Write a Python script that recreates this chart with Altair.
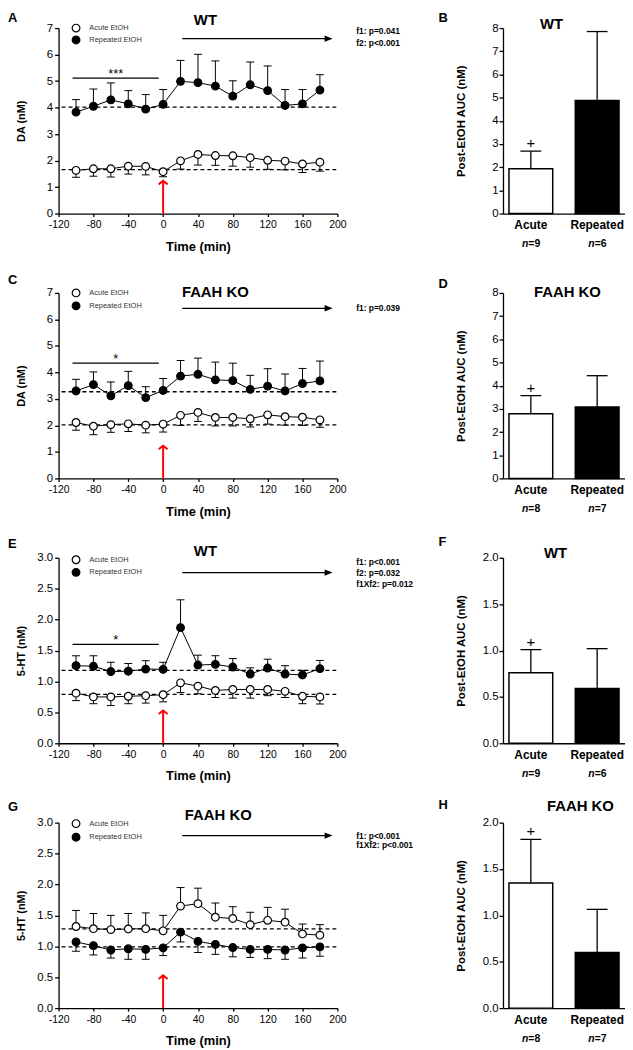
import altair as alt
import pandas as pd

# ---------------- data ----------------
TIME = [-100, -80, -60, -40, -20, 0, 20, 40, 60, 80, 100, 120, 140, 160, 180]
X_TICKS = [-120, -80, -40, 0, 40, 80, 120, 160, 200]
GROUPS = ["Acute", "Repeated"]

# A: DA, WT
DA_WT_ACUTE_MEAN = [1.63, 1.69, 1.69, 1.79, 1.78, 1.58, 1.99, 2.23, 2.19, 2.18, 2.11, 2.01, 1.98, 1.87, 1.94]
DA_WT_ACUTE_SEM = [0.26, 0.28, 0.31, 0.30, 0.32, 0.19, 0.31, 0.40, 0.37, 0.39, 0.36, 0.34, 0.33, 0.32, 0.34]
DA_WT_REP_MEAN = [3.83, 4.05, 4.29, 4.14, 3.94, 4.12, 4.99, 4.94, 4.81, 4.43, 4.86, 4.64, 4.08, 4.14, 4.66]
DA_WT_REP_SEM = [0.47, 0.65, 0.64, 0.50, 0.55, 0.56, 0.79, 1.07, 0.95, 0.58, 0.86, 0.93, 0.60, 0.54, 0.58]
DA_WT_BASE = [1.66, 4.02]

# C: DA, FAAH KO
DA_KO_ACUTE_MEAN = [2.11, 1.97, 2.03, 2.06, 2.01, 2.05, 2.38, 2.49, 2.30, 2.30, 2.25, 2.40, 2.33, 2.31, 2.21]
DA_KO_ACUTE_SEM = [0.29, 0.32, 0.29, 0.29, 0.29, 0.30, 0.38, 0.34, 0.32, 0.32, 0.31, 0.35, 0.32, 0.31, 0.28]
DA_KO_REP_MEAN = [3.30, 3.54, 3.12, 3.50, 3.05, 3.32, 3.86, 3.93, 3.72, 3.69, 3.36, 3.48, 3.30, 3.58, 3.68]
DA_KO_REP_SEM = [0.44, 0.48, 0.52, 0.54, 0.41, 0.45, 0.59, 0.61, 0.67, 0.66, 0.53, 0.66, 0.64, 0.57, 0.75]
DA_KO_BASE = [2.02, 3.27]

# E: 5-HT, WT
HT_WT_ACUTE_MEAN = [0.81, 0.75, 0.75, 0.76, 0.77, 0.785, 0.977, 0.924, 0.854, 0.87, 0.87, 0.87, 0.84, 0.76, 0.75]
HT_WT_ACUTE_SEM = [0.12, 0.11, 0.14, 0.12, 0.12, 0.115, 0.157, 0.124, 0.114, 0.14, 0.14, 0.10, 0.10, 0.12, 0.115]
HT_WT_REP_MEAN = [1.255, 1.245, 1.16, 1.165, 1.20, 1.196, 1.87, 1.265, 1.276, 1.233, 1.12, 1.217, 1.12, 1.105, 1.207]
HT_WT_REP_SEM = [0.16, 0.17, 0.15, 0.125, 0.135, 0.114, 0.45, 0.16, 0.14, 0.137, 0.10, 0.143, 0.135, 0.075, 0.133]
HT_WT_BASE = [0.79, 1.18]

# G: 5-HT, FAAH KO
HT_KO_ACUTE_MEAN = [1.32, 1.285, 1.27, 1.28, 1.285, 1.25, 1.65, 1.69, 1.47, 1.45, 1.35, 1.42, 1.39, 1.20, 1.18]
HT_KO_ACUTE_SEM = [0.26, 0.245, 0.23, 0.25, 0.255, 0.25, 0.30, 0.25, 0.23, 0.19, 0.20, 0.21, 0.21, 0.16, 0.17]
HT_KO_REP_MEAN = [1.07, 1.01, 0.94, 0.96, 0.95, 0.975, 1.23, 1.08, 1.03, 0.98, 0.95, 0.95, 0.94, 0.975, 0.99]
HT_KO_REP_SEM = [0.15, 0.15, 0.13, 0.17, 0.16, 0.125, 0.16, 0.18, 0.16, 0.15, 0.13, 0.15, 0.15, 0.165, 0.15]
HT_KO_BASE = [0.99, 1.28]

# post-EtOH AUC bars (B, D, F, H)
AUC_B_MEAN = [1.93, 4.88]
AUC_B_SEM = [0.76, 2.97]
AUC_D_MEAN = [2.79, 3.08]
AUC_D_SEM = [0.78, 1.35]
AUC_F_MEAN = [0.76, 0.59]
AUC_F_SEM = [0.25, 0.43]
AUC_H_MEAN = [1.35, 0.60]
AUC_H_SEM = [0.47, 0.465]
N_B = [9, 6]
N_D = [8, 7]
N_F = [9, 6]
N_H = [8, 7]

# annotation values (data units)
ETOH_TIME = 0
POST_START, POST_END = 22, 188
STAR_FROM, STAR_TO = -104, -5

# ---------------- style ----------------
FONT = "Liberation Sans"
W, H, BW = 281, 187, 123
one = pd.DataFrame({"k": [0]})
FILL = alt.Scale(domain=GROUPS, range=["white", "black"])
TRI = "M-1,-0.8L1,0L-1,0.8Z"
CHEV = "M-1,0.8L0,0L1,0.8"


def txt(text, x, y, size, weight="normal", align="left", baseline="middle",
        color="black", style="normal"):
    return alt.Chart(one).mark_text(
        text=text, font=FONT, fontSize=size, fontWeight=weight, align=align,
        baseline=baseline, fill=color, fontStyle=style
    ).encode(x=alt.value(x), y=alt.value(y))


def line_panel(letter, letter_y, title, tx, ty, ylabel, ymax, yticks, fmt,
               acute, acute_sem, rep, rep_sem, acute_up, base, star, star_y,
               arrow_y, stats, stats_y, legend_y):
    xs = alt.Scale(domain=[-120, 200], nice=False, zero=False)
    ys = alt.Scale(domain=[0, ymax], nice=False)
    xax = alt.Axis(values=X_TICKS, labelExpr="'' + datum.value", title="Time (min)",
                   titleFont=FONT, titleFontSize=13,
                   titleFontWeight="bold", titleColor="black", titleY=27, titleBaseline="top",
                   labelFont=FONT, labelFontSize=10.5, labelColor="black", labelPadding=3,
                   tickSize=3, tickColor="black", tickWidth=1.3, domainColor="black",
                   domainWidth=1.3, grid=False, labelFlush=False, labelOverlap=False)
    yax = alt.Axis(values=yticks, format=fmt, title=ylabel, titleFont=FONT, titleFontSize=11,
                   titleFontWeight="bold", titleColor="black", titleX=-32,
                   titleBaseline="bottom", titleAngle=270, labelFont=FONT, labelFontSize=11.5,
                   labelColor="black", labelPadding=2, tickSize=4, tickColor="black",
                   tickWidth=1.3, domainColor="black", domainWidth=1.3, grid=False,
                   labelOverlap=False)
    X = alt.X("t:Q", scale=xs, axis=xax)
    Y = alt.Y("v:Q", scale=ys, axis=yax)

    rows, errs = [], []
    for name, m, s, up in (("Acute", acute, acute_sem, acute_up),
                           ("Repeated", rep, rep_sem, not acute_up)):
        for t, mv, sv in zip(TIME, m, s):
            rows.append({"s": name, "t": t, "v": mv})
            errs.append({"s": name, "t": t, "v": mv, "e": mv + sv if up else mv - sv})
    pts = pd.DataFrame(rows)
    err = pd.DataFrame(errs)
    caps = err.assign(v=err["e"])
    etoh = pd.DataFrame({"t": [ETOH_TIME]})

    layers = [
        alt.Chart(pd.DataFrame({"v": base})).mark_rule(
            strokeDash=[4, 3], strokeWidth=1.3, color="black"
        ).encode(y=Y, x=alt.value(3), x2=alt.value(W)),
        alt.Chart(err).mark_rule(color="black", strokeWidth=1).encode(
            x=X, y=Y, y2=alt.Y2("e:Q")),
        alt.Chart(caps).mark_tick(orient="horizontal", size=8, thickness=1,
                                  color="black", opacity=1).encode(x=X, y=Y),
        alt.Chart(pts).mark_line(color="black", strokeWidth=1).encode(
            x=X, y=Y, detail="s:N"),
        alt.Chart(pts).mark_circle(size=60, stroke="black", strokeWidth=1.2,
                                   opacity=1).encode(
            x=X, y=Y, fill=alt.Fill("s:N", scale=FILL, legend=None)),
        # post-EtOH arrow
        alt.Chart(pd.DataFrame({"t": [POST_START], "t2": [POST_END], "v": [arrow_y]}))
        .mark_rule(color="black", strokeWidth=1.3).encode(x=X, x2="t2:Q", y=Y),
        alt.Chart(pd.DataFrame({"t": [POST_END + 2], "v": [arrow_y]}))
        .mark_point(shape=TRI, filled=True, color="black", size=64, opacity=1)
        .encode(x=X, y=Y),
        # red EtOH injection arrow
        alt.Chart(etoh).mark_rule(color="#ff0000", strokeWidth=2).encode(
            x=X, y=alt.value(H), y2=alt.value(H - 33)),
        alt.Chart(etoh).mark_point(shape=CHEV, filled=False, color="#ff0000",
                                   strokeWidth=2, size=80, opacity=1).encode(
            x=X, y=alt.value(H - 33)),
        # legend
        alt.Chart(one).mark_circle(size=60, stroke="black", strokeWidth=1.2, opacity=1,
                                   color="white").encode(
            x=alt.value(17.6), y=alt.value(legend_y[0])),
        alt.Chart(one).mark_circle(size=60, stroke="black", strokeWidth=1.2, opacity=1,
                                   color="black").encode(
            x=alt.value(17.6), y=alt.value(legend_y[1])),
        txt("Acute EtOH", 31, legend_y[0], 7.5, color="#333333"),
        txt("Repeated EtOH", 31, legend_y[1], 7.5, color="#333333"),
        # titles / letter
        txt(title, tx, ty, 15, weight="bold", align="center"),
        txt(letter, -51, letter_y, 13, weight="bold", baseline="top"),
    ]
    for s_text, s_y in zip(stats, stats_y):
        layers.append(txt(s_text, 300, s_y, 8.5, weight="bold"))
    if star:
        layers.append(
            alt.Chart(pd.DataFrame({"t": [STAR_FROM], "t2": [STAR_TO], "v": [star_y]}))
            .mark_rule(color="black", strokeWidth=1.2).encode(x=X, x2="t2:Q", y=Y))
        layers.append(
            alt.Chart(pd.DataFrame({"t": [(STAR_FROM + STAR_TO) / 2], "v": [star_y]}))
            .mark_text(text=star, font=FONT, fontSize=13, baseline="alphabetic",
                       align="center", fill="black").encode(x=X, y=Y))
    return alt.layer(*layers).properties(width=W, height=H)


def bar_panel(letter, letter_y, title, tx, ty, ymax, yticks, fmt, means, sems, ns):
    xs = alt.Scale(domain=GROUPS, paddingInner=0.34, paddingOuter=0.09)
    ys = alt.Scale(domain=[0, ymax], nice=False)
    xax = alt.Axis(title=None, labelAngle=0, ticks=False, labelFont=FONT, labelFontSize=12,
                   labelFontWeight="bold", labelColor="black", labelPadding=6,
                   domainColor="black", domainWidth=1.3)
    yax = alt.Axis(values=yticks, format=fmt, title="Post-EtOH AUC (nM)", titleFont=FONT,
                   titleFontSize=11.5, titleFontWeight="bold", titleColor="black",
                   titleX=-37, titleBaseline="bottom", titleAngle=270, labelFont=FONT,
                   labelFontSize=11.5, labelColor="black", labelPadding=1, tickSize=4,
                   tickColor="black", tickWidth=1.3, domainColor="black", domainWidth=1.3,
                   grid=False, labelOverlap=False)
    X = alt.X("g:N", scale=xs, axis=xax)
    Y = alt.Y("v:Q", scale=ys, axis=yax)
    df = pd.DataFrame({"g": GROUPS, "v": means,
                       "e": [m + s for m, s in zip(means, sems)],
                       "nl": ["=" + str(n) for n in ns]})
    caps = df.assign(v=df["e"])
    plus = caps[caps["g"] == "Acute"]
    layers = [
        alt.Chart(df).mark_rule(color="black", strokeWidth=1.3).encode(
            x=X, y=Y, y2=alt.Y2("e:Q")),
        alt.Chart(caps).mark_tick(orient="horizontal", size=21, thickness=1.3,
                                  color="black", opacity=1).encode(x=X, y=Y),
        alt.Chart(df).mark_bar(stroke="black", strokeWidth=1.5, opacity=1).encode(
            x=X, y=Y, fill=alt.Fill("g:N", scale=FILL, legend=None)),
        alt.Chart(plus).mark_text(text="+", font=FONT, fontSize=15, dy=-3,
                                  baseline="alphabetic", fill="black").encode(x=X, y=Y),
        alt.Chart(df).mark_text(text="n", font=FONT, fontSize=10.5, fontWeight="bold",
                                fontStyle="italic", align="right", dx=-2.5,
                                baseline="middle", fill="black").encode(
            x=X, y=alt.value(H + 31)),
        alt.Chart(df).mark_text(font=FONT, fontSize=10.5, fontWeight="bold", align="left",
                                dx=-2.5, baseline="middle", fill="black").encode(
            x=X, y=alt.value(H + 31), text="nl:N"),
        txt(title, tx, ty, 15, weight="bold", align="center"),
        txt(letter, -65, letter_y, 13, weight="bold", baseline="top"),
    ]
    return alt.layer(*layers).properties(width=BW, height=H)


DA_TICKS = [0, 1, 2, 3, 4, 5, 6, 7]
HT_TICKS = [0, 0.5, 1.0, 1.5, 2.0, 2.5, 3.0]
AUC8 = [0, 1, 2, 3, 4, 5, 6, 7, 8]
AUC2 = [0, 0.5, 1.0, 1.5, 2.0]

pA = line_panel("A", -16, "WT", 148, -8, "DA (nM)", 7, DA_TICKS, "d",
                DA_WT_ACUTE_MEAN, DA_WT_ACUTE_SEM, DA_WT_REP_MEAN, DA_WT_REP_SEM, False,
                DA_WT_BASE, "***", 5.11, 6.6,
                ["f1: p=0.041", "f2: p<0.001"], [3, 14.7], [0, 12])
pB = bar_panel("B", -16, "WT", 49, -4, 8, AUC8, "d", AUC_B_MEAN, AUC_B_SEM, N_B)
pC = line_panel("C", -19, "FAAH KO", 158, -1, "DA (nM)", 7, DA_TICKS, "d",
                DA_KO_ACUTE_MEAN, DA_KO_ACUTE_SEM, DA_KO_REP_MEAN, DA_KO_REP_SEM, False,
                DA_KO_BASE, "*", 4.35, 6.42,
                ["f1: p=0.039"], [15.7], [0, 13])
pD = bar_panel("D", -15, "FAAH KO", 65, -1, 8, AUC8, "d", AUC_D_MEAN, AUC_D_SEM, N_D)
pE = line_panel("E", -20, "WT", 148, -7, "5-HT (nM)", 3, HT_TICKS, ".1f",
                HT_WT_ACUTE_MEAN, HT_WT_ACUTE_SEM, HT_WT_REP_MEAN, HT_WT_REP_SEM, False,
                HT_WT_BASE, "*", 1.60, 2.76,
                ["f1: p<0.001", "f2: p=0.032", "f1Xf2: p=0.012"], [4.7, 15.3, 26], [2, 14.7])
pF = bar_panel("F", -22, "WT", 53, -5, 2, AUC2, ".1f", AUC_F_MEAN, AUC_F_SEM, N_F)
pG = line_panel("G", -22, "FAAH KO", 161, -8, "5-HT (nM)", 3, HT_TICKS, ".1f",
                HT_KO_ACUTE_MEAN, HT_KO_ACUTE_SEM, HT_KO_REP_MEAN, HT_KO_REP_SEM, True,
                HT_KO_BASE, None, 0, 2.79,
                ["f1: p<0.001", "f1Xf2: p<0.001"], [13, 23], [1, 14.7])
pH = bar_panel("H", -24, "FAAH KO", 78, -17, 2, AUC2, ".1f", AUC_H_MEAN, AUC_H_SEM, N_H)

chart = alt.concat(
    pA, pB, pC, pD, pE, pF, pG, pH, columns=2,
    spacing={"row": 80, "column": 167}, bounds="flush"
).properties(padding=0, background="white").configure_view(
    stroke=None
).configure_axis(labelOverlap=False)

chart.save("out.html", embed_options={"renderer": "svg", "actions": False})
